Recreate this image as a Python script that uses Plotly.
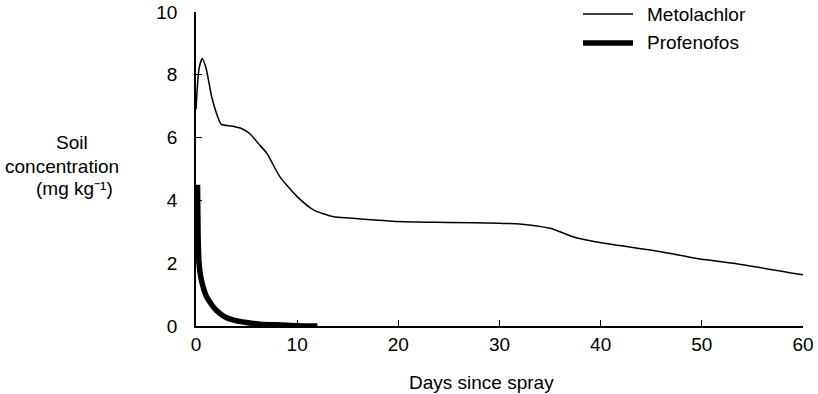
import plotly.graph_objects as go

# Data
meto_days = [0.0, 0.3, 0.62, 1.0, 1.55, 2.0, 2.5, 3.5, 4.5, 5.3, 6.2, 7.0, 8.3, 10.0, 11.6, 13.6, 15.2, 20, 25, 30, 32, 35, 37.6, 40.2, 45.8, 49.5, 53.1, 60]
meto_conc = [6.9, 8.2, 8.52, 8.2, 7.3, 6.8, 6.42, 6.37, 6.29, 6.13, 5.8, 5.5, 4.75, 4.12, 3.7, 3.48, 3.44, 3.33, 3.3, 3.27, 3.25, 3.11, 2.81, 2.64, 2.37, 2.15, 2.0, 1.63]

prof_days = [0.15, 0.2, 0.3, 0.45, 0.7, 1.05, 1.5, 2.0, 2.8, 3.7, 5.0, 6.3, 8.6, 10.0, 12.0]
prof_conc = [4.5, 3.0, 2.0, 1.6, 1.25, 0.93, 0.7, 0.5, 0.3, 0.19, 0.11, 0.06, 0.03, 0.01, 0.0]

x_ticks = [0, 10, 20, 30, 40, 50, 60]
y_ticks = [0, 2, 4, 6, 8, 10]

FONT = "Liberation Sans, Arial, sans-serif"
FS = 19

fig = go.Figure()
fig.add_trace(go.Scatter(x=meto_days, y=meto_conc, mode="lines", name="Metolachlor",
                         line=dict(color="black", width=1.5, shape="spline", smoothing=0.6)))
fig.add_trace(go.Scatter(x=prof_days, y=prof_conc, mode="lines", name="Profenofos",
                         line=dict(color="black", width=5.5, shape="spline", smoothing=0.6)))

fig.update_layout(
    width=818, height=394,
    margin=dict(l=196, r=15, t=12, b=68),
    paper_bgcolor="white", plot_bgcolor="white",
    showlegend=False,
    font=dict(family=FONT, size=FS, color="black"),
)
fig.update_xaxes(range=[0, 60], tickvals=x_ticks, ticks="inside", ticklen=6, tickwidth=1.2,
                 tickcolor="black", showline=True, linecolor="black", linewidth=1.5,
                 showgrid=False, zeroline=False, tickfont=dict(size=FS), automargin=False)
fig.update_yaxes(range=[0, 10], tickvals=y_ticks, ticks="inside", ticklen=6, tickwidth=1.2,
                 tickcolor="black", showline=True, linecolor="black", linewidth=1.5,
                 showgrid=False, zeroline=False, tickfont=dict(size=FS), ticklabelstandoff=13,
                 automargin=False)

# x-axis title (slightly left of axis centre, as in the reference)
fig.add_annotation(text="Days since spray", xref="paper", yref="paper",
                   x=(481 - 196) / 607, y=(326 - 382) / 314,
                   xanchor="center", yanchor="middle", showarrow=False, font=dict(size=FS))

# y-axis title as horizontal stacked text
for txt, cx, py in [("Soil", 72, 142), ("concentration", 62, 166), ("(mg kg⁻¹)", 74, 188)]:
    fig.add_annotation(text=txt, xref="paper", yref="paper",
                       x=(cx - 196) / 607, y=(326 - py) / 314,
                       xanchor="center", yanchor="middle", showarrow=False,
                       font=dict(size=FS))

# manual legend
for name, w, py in [("Metolachlor", 1.5, 14), ("Profenofos", 5.5, 43)]:
    yp = (326 - py) / 314
    fig.add_shape(type="line", xref="paper", yref="paper",
                  x0=(583 - 196) / 607, x1=(633 - 196) / 607, y0=yp, y1=yp,
                  line=dict(color="black", width=w))
    fig.add_annotation(text=name, xref="paper", yref="paper",
                       x=(645 - 196) / 607, y=yp, xanchor="left", yanchor="middle",
                       showarrow=False, font=dict(size=FS))

fig.write_html("out.html")
